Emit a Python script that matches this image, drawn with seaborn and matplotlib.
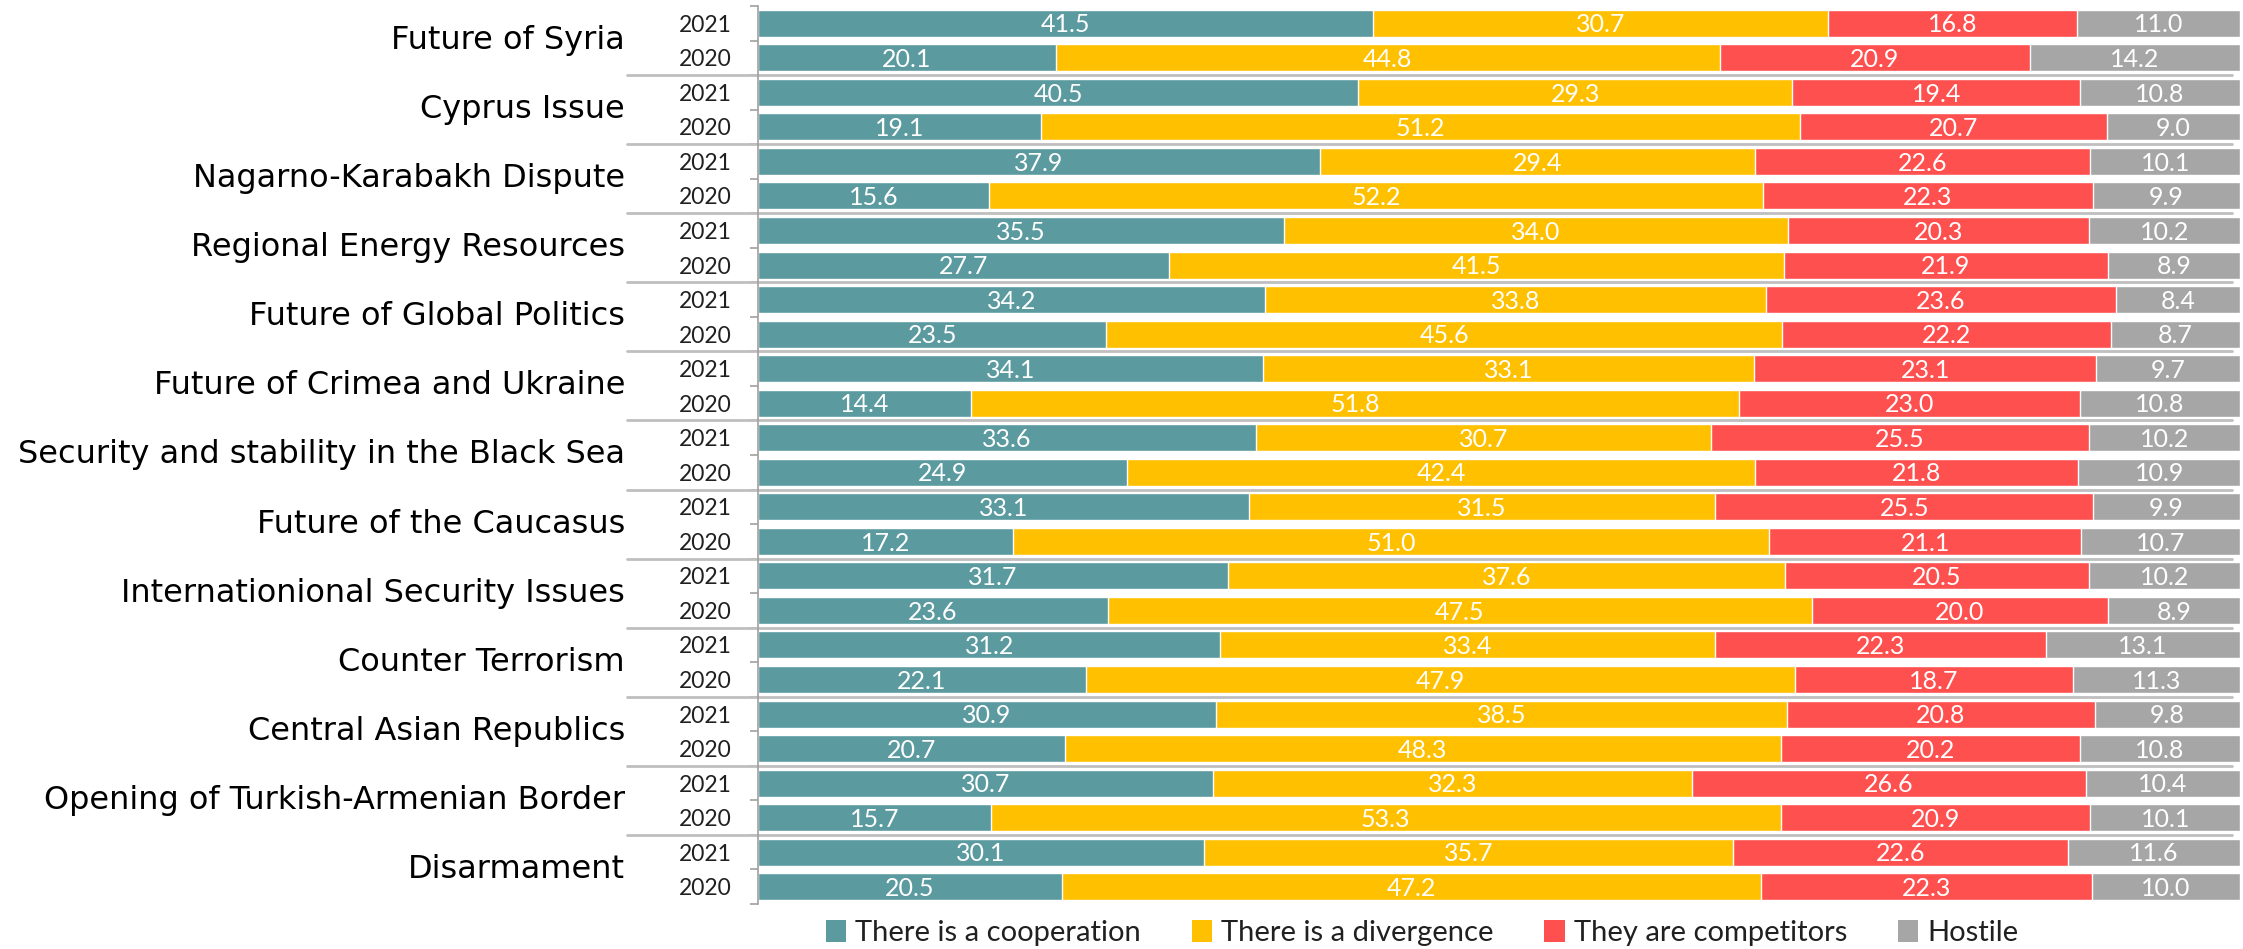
import numpy as np
import pandas as pd
import matplotlib
matplotlib.use("Agg")
import matplotlib.pyplot as plt
from matplotlib.patches import Patch
import seaborn as sns

categories = [
    "Future of Syria", "Cyprus Issue", "Nagarno-Karabakh Dispute",
    "Regional Energy Resources", "Future of Global Politics",
    "Future of Crimea and Ukraine", "Security and stability in the Black Sea",
    "Future of the Caucasus", "Internationional Security Issues",
    "Counter Terrorism", "Central Asian Republics",
    "Opening of Turkish-Armenian Border", "Disarmament",
]
years = ["2021", "2020"]
series = ["There is a cooperation", "There is a divergence",
          "They are competitors", "Hostile"]

cooperation_2021 = [41.5, 40.5, 37.9, 35.5, 34.2, 34.1, 33.6, 33.1, 31.7, 31.2, 30.9, 30.7, 30.1]
divergence_2021 = [30.7, 29.3, 29.4, 34.0, 33.8, 33.1, 30.7, 31.5, 37.6, 33.4, 38.5, 32.3, 35.7]
competitors_2021 = [16.8, 19.4, 22.6, 20.3, 23.6, 23.1, 25.5, 25.5, 20.5, 22.3, 20.8, 26.6, 22.6]
hostile_2021 = [11.0, 10.8, 10.1, 10.2, 8.4, 9.7, 10.2, 9.9, 10.2, 13.1, 9.8, 10.4, 11.6]

cooperation_2020 = [20.1, 19.1, 15.6, 27.7, 23.5, 14.4, 24.9, 17.2, 23.6, 22.1, 20.7, 15.7, 20.5]
divergence_2020 = [44.8, 51.2, 52.2, 41.5, 45.6, 51.8, 42.4, 51.0, 47.5, 47.9, 48.3, 53.3, 47.2]
competitors_2020 = [20.9, 20.7, 22.3, 21.9, 22.2, 23.0, 21.8, 21.1, 20.0, 18.7, 20.2, 20.9, 22.3]
hostile_2020 = [14.2, 9.0, 9.9, 8.9, 8.7, 10.8, 10.9, 10.7, 8.9, 11.3, 10.8, 10.1, 10.0]

colors = ["#5B9BA0", "#FFC000", "#FF5050", "#A6A6A6"]

# build long table: one row per (category, year)
rows = []
for i, cat in enumerate(categories):
    for yr, vals in (("2021", (cooperation_2021, divergence_2021, competitors_2021, hostile_2021)),
                     ("2020", (cooperation_2020, divergence_2020, competitors_2020, hostile_2020))):
        rec = {"row": f"{cat} {yr}", "category": cat, "year": yr}
        for s, v in zip(series, vals):
            rec[s] = v[i]
        rows.append(rec)
df = pd.DataFrame(rows)
order = list(df["row"])
cum = df[series].cumsum(axis=1)
for s in series:
    df["cum_" + s] = cum[s]

sns.set_theme(style="white")
plt.rcParams["font.family"] = ["DejaVu Sans"]

W, H = 2243, 949
fig = plt.figure(figsize=(W / 100, H / 100), dpi=100)
ax_left, ax_right = 758 / W, 2240 / W
ax_top, ax_bot = 1 - 6 / H, 1 - 904 / H
ax = fig.add_axes([ax_left, ax_bot, ax_right - ax_left, ax_top - ax_bot])

for s, c in reversed(list(zip(series, colors))):
    sns.barplot(data=df, x="cum_" + s, y="row", order=order, orient="h",
                color=c, saturation=1, width=0.78, errorbar=None, ax=ax, zorder=2)

ax.set_xlim(0, 100)
ax.set_ylim(len(order) - 0.5, -0.5)
ax.set_xlabel("")
ax.set_ylabel("")
ax.set_xticks([])

# value labels
for j, r in df.iterrows():
    left = 0
    for s in series:
        v = r[s]
        ax.text(left + v / 2, j + 0.05, f"{v:.1f}", ha="center", va="center",
                color="white", fontsize=18, family="Lato", zorder=5)
        left += v

# year tick labels
ax.set_yticks(range(len(order)))
ax.set_yticklabels(list(df["year"]), family="Lato", fontsize=16.5, color="#202020")
ax.tick_params(axis="y", which="major", length=0, pad=19)
ax.set_yticks(np.arange(-0.5, len(order), 1), minor=True)
ax.tick_params(axis="y", which="minor", length=6, color="#A0A0A0", width=1.2, left=True)

for sp in ["top", "right", "bottom"]:
    ax.spines[sp].set_visible(False)
ax.spines["left"].set_color("#A0A0A0")
ax.spines["left"].set_linewidth(1.2)

# category labels and group separators
trans = ax.get_yaxis_transform()
x_cat = (625 - 758) / 1482
for k, cat in enumerate(categories):
    ax.text(x_cat, 2 * k + 0.5, cat, transform=trans, ha="right", va="center",
            fontsize=23, color="black", family="DejaVu Sans")
for k in range(1, len(categories)):
    ax.plot([(627 - 758) / 1482, (2232 - 758) / 1482], [2 * k - 0.5, 2 * k - 0.5],
            transform=trans, color="#BFBFBF", lw=2, clip_on=False, zorder=1)

handles = [Patch(facecolor=c, edgecolor="none") for c in colors]
leg = fig.legend(handles, series, loc="center", bbox_to_anchor=(0.634, 0.017),
                 ncol=4, frameon=False, handlelength=0.7, handleheight=0.8,
                 handletextpad=0.3, columnspacing=1.75,
                 prop={"family": "Lato", "size": 21})
for t in leg.get_texts():
    t.set_color("#202020")

fig.savefig("out.png", dpi=100)
